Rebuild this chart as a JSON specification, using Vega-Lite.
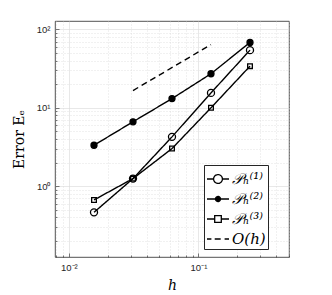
{
  "$schema": "https://vega.github.io/schema/vega-lite/v6.json",
  "width": 234,
  "height": 236,
  "autosize": "none",
  "padding": {"left": 55, "top": 21, "right": 43, "bottom": 38},
  "background": "white",
  "config": {
    "view": {"stroke": "#262626", "strokeWidth": 0.8},
    "axis": {"labelFont": "Liberation Sans", "labelFontSize": 9.5, "labelColor": "#262626", "domain": false, "titleColor": "#000000", "titleFontWeight": "normal"}
  },
  "data": {
    "values": [
      {"series": "P1", "h": 0.015625, "E": 0.464},
      {"series": "P1", "h": 0.03125, "E": 1.25},
      {"series": "P1", "h": 0.0625, "E": 4.26},
      {"series": "P1", "h": 0.125, "E": 15.5},
      {"series": "P1", "h": 0.25, "E": 54.4},
      {"series": "P2", "h": 0.015625, "E": 3.33},
      {"series": "P2", "h": 0.03125, "E": 6.63},
      {"series": "P2", "h": 0.0625, "E": 13.1},
      {"series": "P2", "h": 0.125, "E": 27.2},
      {"series": "P2", "h": 0.25, "E": 68.2},
      {"series": "P3", "h": 0.015625, "E": 0.668},
      {"series": "P3", "h": 0.03125, "E": 1.25},
      {"series": "P3", "h": 0.0625, "E": 3.02},
      {"series": "P3", "h": 0.125, "E": 10.0},
      {"series": "P3", "h": 0.25, "E": 34.0},
      {"series": "Oh", "h": 0.03125, "E": 16.6},
      {"series": "Oh", "h": 0.125, "E": 64}
    ]
  },
  "encoding": {
    "x": {
      "field": "h", "type": "quantitative",
      "scale": {"type": "log", "domain": [0.0078125, 0.5], "nice": false},
      "axis": {
        "title": "h", "titleFont": "DejaVu Serif", "titleFontStyle": "italic", "titleFontSize": 14, "titlePadding": 7,
        "values": [0.008, 0.009, 0.01, 0.02, 0.03, 0.04, 0.05, 0.06, 0.07, 0.08, 0.09, 0.1, 0.2, 0.3, 0.4, 0.5],
        "labelExpr": "datum.value == 0.01 ? '10⁻²' : datum.value == 0.1 ? '10⁻¹' : ''",
        "grid": true,
        "gridColor": {"condition": {"test": "datum.value == 0.01 || datum.value == 0.1", "value": "#d9d9d9"}, "value": "#d0d0d0"},
        "gridDash": {"condition": {"test": "datum.value == 0.01 || datum.value == 0.1", "value": []}, "value": [1, 2]},
        "gridWidth": 0.6,
        "tickColor": "#262626",
        "tickWidth": 0.6,
        "tickSize": {"condition": {"test": "datum.value == 0.01 || datum.value == 0.1", "value": -4}, "value": -2},
        "labelPadding": 9
      }
    },
    "y": {
      "field": "E", "type": "quantitative",
      "scale": {"type": "log", "domain": [0.125, 128], "nice": false},
      "axis": {
        "title": "Error Eₑ", "titleFont": "DejaVu Serif", "titleFontSize": 14, "titlePadding": 10,
        "values": [0.2, 0.3, 0.4, 0.5, 0.6, 0.7, 0.8, 0.9, 1, 2, 3, 4, 5, 6, 7, 8, 9, 10, 20, 30, 40, 50, 60, 70, 80, 90, 100],
        "labelExpr": "datum.value == 1 ? '10⁰' : datum.value == 10 ? '10¹' : datum.value == 100 ? '10²' : ''",
        "grid": true,
        "gridColor": {"condition": {"test": "datum.value == 1 || datum.value == 10 || datum.value == 100", "value": "#d9d9d9"}, "value": "#d0d0d0"},
        "gridDash": {"condition": {"test": "datum.value == 1 || datum.value == 10 || datum.value == 100", "value": []}, "value": [1, 2]},
        "gridWidth": 0.6,
        "tickColor": "#262626",
        "tickWidth": 0.6,
        "tickSize": {"condition": {"test": "datum.value == 1 || datum.value == 10 || datum.value == 100", "value": -4}, "value": -2},
        "labelPadding": 9
      }
    }
  },
  "layer": [
    {
      "mark": {"type": "line", "strokeWidth": 1.4},
      "encoding": {
        "color": {
          "field": "series", "type": "nominal",
          "scale": {"domain": ["P1", "P2", "P3", "Oh"], "range": ["black", "black", "black", "black"]},
          "legend": {
            "title": null,
            "orient": "none",
            "legendX": 149,
            "legendY": 144,
            "padding": 2,
            "strokeColor": "#262626",
            "fillColor": "white",
            "symbolSize": 484,
            "symbolStrokeWidth": 1.3,
            "symbolStrokeColor": "black",
            "rowPadding": 0,
            "labelFont": "DejaVu Serif",
            "labelFontSize": 15,
            "labelFontStyle": "italic",
            "labelColor": "black",
            "labelOffset": 2,
            "labelExpr": "datum.value == 'P1' ? '𝒫ₕ⁽¹⁾' : datum.value == 'P2' ? '𝒫ₕ⁽²⁾' : datum.value == 'P3' ? '𝒫ₕ⁽³⁾' : 'O(h)'",
            "encode": {
              "symbols": {
                "update": {
                  "shape": {"signal": "datum.value == 'P1' ? 'M-1,0H-0.4M0.4,0H1M0.4,0A0.4,0.4 0 1 1 -0.4,0A0.4,0.4 0 1 1 0.4,0Z' : datum.value == 'P2' ? 'M-1,0H1M0.23,0A0.23,0.23 0 1 1 -0.23,0A0.23,0.23 0 1 1 0.23,0Z' : datum.value == 'P3' ? 'M-1,0H-0.3M0.3,0H1M-0.3,-0.3H0.3V0.3H-0.3Z' : 'M-1,0H-0.6M-0.3,0H0.3M0.6,0H1'"},
                  "fill": {"signal": "datum.value == 'P2' ? 'black' : 'transparent'"},
                  "stroke": {"value": "black"}
                }
              }
            }
          }
        },
        "strokeDash": {
          "field": "series", "type": "nominal",
          "scale": {"domain": ["P1", "P2", "P3", "Oh"], "range": [[1, 0], [1, 0], [1, 0], [6, 4]]},
          "legend": null
        }
      }
    },
    {
      "transform": [{"filter": "datum.series != 'Oh'"}],
      "mark": {"type": "point", "filled": true, "strokeWidth": 1.3, "stroke": "black", "opacity": 1},
      "encoding": {
        "shape": {"field": "series", "type": "nominal", "scale": {"domain": ["P1", "P2", "P3"], "range": ["circle", "circle", "square"]}, "legend": null},
        "fill": {"field": "series", "type": "nominal", "scale": {"domain": ["P1", "P2", "P3"], "range": ["transparent", "black", "transparent"]}, "legend": null},
        "size": {"field": "series", "type": "nominal", "scale": {"domain": ["P1", "P2", "P3"], "range": [50, 22, 34]}, "legend": null}
      }
    }
  ]
}
